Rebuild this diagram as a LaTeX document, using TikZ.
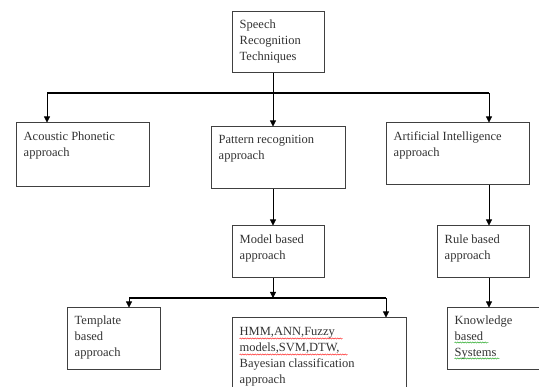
\documentclass[tikz,border=0pt]{standalone}
\usepackage{fontspec}
\setmainfont{Liberation Serif}
\usetikzlibrary{positioning,calc,arrows.meta,decorations.pathmorphing}

\begin{document}
\begin{tikzpicture}[x=1pt, y=-1pt,
  box/.style={draw=black!75, line width=1pt, inner sep=0pt},
  txt/.style={anchor=north west, inner sep=0pt, align=left, text=black!80,
    font=\fontsize{12.5}{16}\selectfont},
  bus/.style={line width=1.4pt},
  arr/.style={line width=0.8pt, -{Triangle[length=6pt,width=6pt]}},
  wavy/.style={line width=0.4pt, decorate,
    decoration={snake, amplitude=0.6pt, segment length=2.5pt}}]
  \useasboundingbox (0,0) rectangle (539,387);
  \clip (0,0) rectangle (539,387);

  % Boxes
  \node[box, minimum width=92pt, minimum height=61pt] (top) at (278,42.5) {};
  \node[box, minimum width=133pt, minimum height=64pt] (acoustic) at (82.5,155) {};
  \node[box, minimum width=134pt, minimum height=62pt] (pattern) at (278,158) {};
  \node[box, minimum width=143pt, minimum height=62pt] (ai) at (457.5,154) {};
  \node[box, minimum width=92pt, minimum height=52pt] (model) at (278,252) {};
  \node[box, minimum width=92pt, minimum height=52pt] (rule) at (483,252) {};
  \node[box, minimum width=93pt, minimum height=62pt] (template) at (113.5,339) {};
  \node[box, minimum width=174pt, minimum height=80pt] (hmm) at (319,358) {};
  \node[box, minimum width=98pt, minimum height=62pt] (knowledge) at (496,339) {};

  % Texts
  \node[txt] (topT) at ([shift={(8,8)}]top.north west) {Speech\\Recognition\\Techniques};
  \node[txt] (acousticT) at ([shift={(8,9)}]acoustic.north west) {Acoustic Phonetic\\approach};
  \node[txt] (patternT) at ([shift={(8,9)}]pattern.north west) {Pattern recognition\\approach};
  \node[txt] (aiT) at ([shift={(8,9)}]ai.north west) {Artificial Intelligence\\approach};
  \node[txt] (modelT) at ([shift={(8,9)}]model.north west) {Model based\\approach};
  \node[txt] (ruleT) at ([shift={(8,9)}]rule.north west) {Rule based\\approach};
  \node[txt] (templateT) at ([shift={(8,8)}]template.north west) {Template\\based\\approach};
  \node[txt] (hmmT) at ([shift={(8,10)}]hmm.north west) {HMM,ANN,Fuzzy\\models,SVM,DTW,\\Bayesian classification\\approach};
  \node[txt] (knowledgeT) at ([shift={(8,8)}]knowledge.north west) {Knowledge\\based\\Systems};

  % Spelling marks
  \draw[wavy, red] ([shift={(0,11)}]hmmT.north west) -- ++(103,0);
  \draw[wavy, red] ([shift={(0,27)}]hmmT.north west) -- ++(108,0);
  \draw[wavy, green!60!black] ([shift={(0,27)}]knowledgeT.north west) -- ++(34,0);
  \draw[wavy, green!60!black] ([shift={(0,43)}]knowledgeT.north west) -- ++(45,0);

  % Junctions
  \coordinate (colA) at (47,93);
  \coordinate (colB) at (273,93);
  \coordinate (colC) at (489,93);
  \coordinate (colD) at (129,298);
  \coordinate (colE) at (386,298);
  \coordinate (j2) at (273,298);

  % First level
  \draw[bus] (colA) -- (colC);
  \draw[arr] (top.south -| colB) -- (pattern.north -| colB);
  \draw[arr] (colA) -- (acoustic.north -| colA);
  \draw[arr] (colC) -- (ai.north -| colC);

  % Pattern branch
  \draw[arr] (pattern.south -| colB) -- (model.north -| colB);
  \draw[arr] (model.south -| j2) -- (j2);
  \draw[bus] (colD) -- (colE);
  \draw[arr] (colD) -- (template.north -| colD);
  \draw[arr] (colE) -- (hmm.north -| colE);

  % AI branch
  \draw[arr] (ai.south -| colC) -- (rule.north -| colC);
  \draw[arr] (rule.south -| colC) -- (knowledge.north -| colC);
\end{tikzpicture}
\end{document}
